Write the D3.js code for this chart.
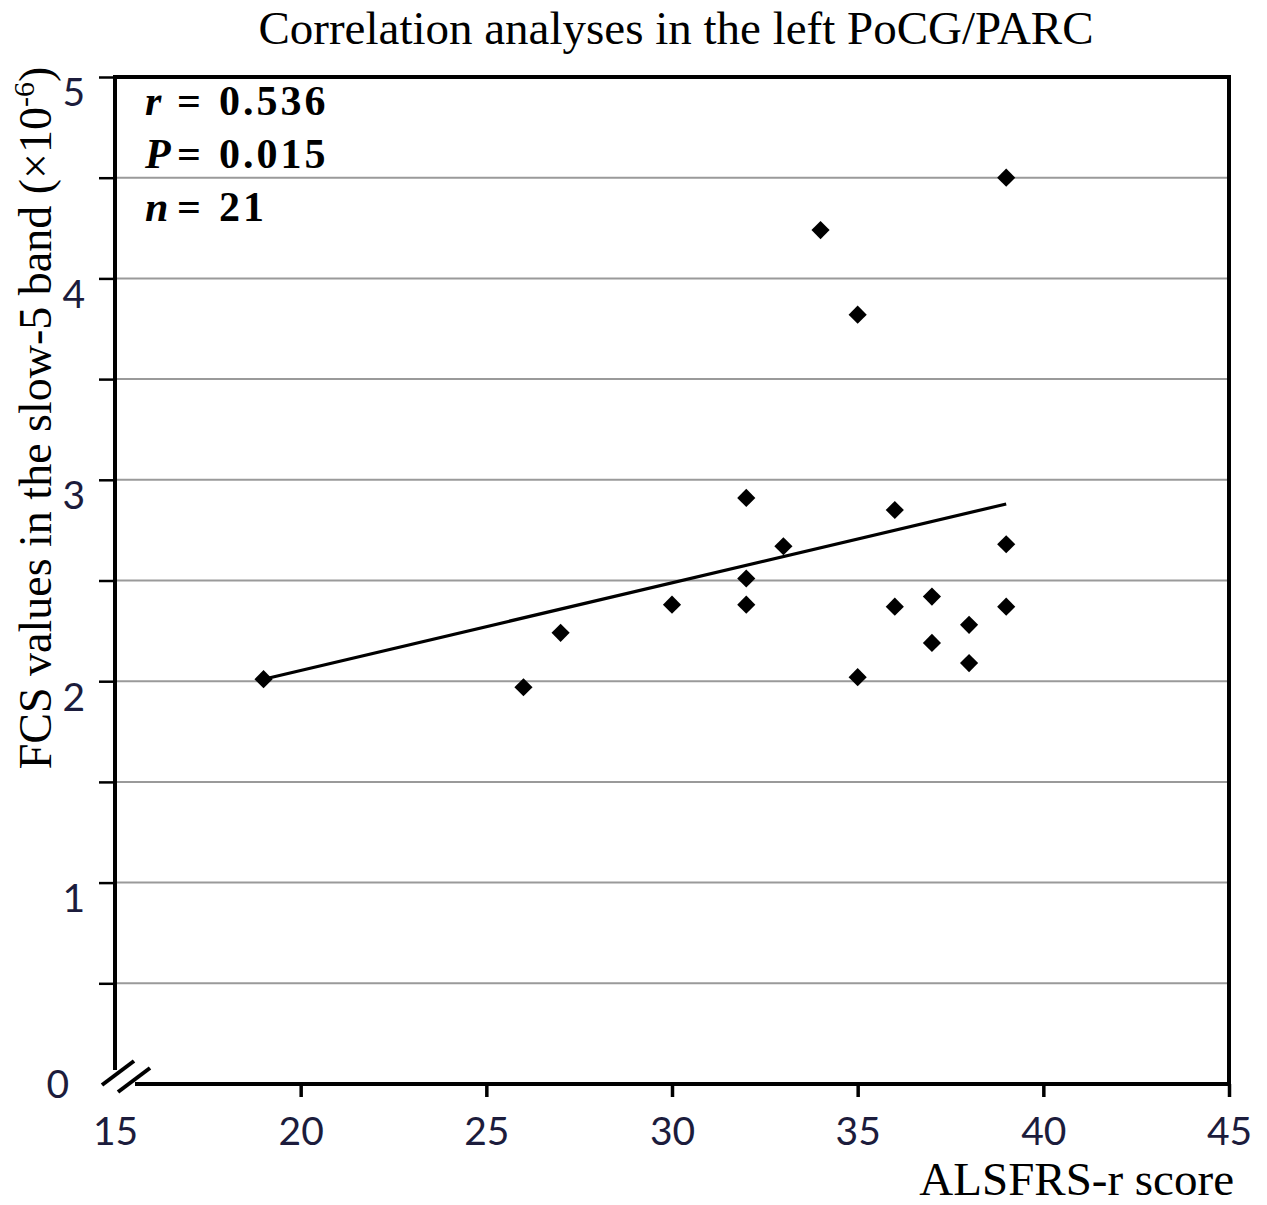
<!DOCTYPE html>
<html>
<head>
<meta charset="utf-8">
<script src="https://cdn.jsdelivr.net/npm/d3@7"></script>
<style>
  body { margin: 0; background: #fff; }
  svg { display: block; }
</style>
</head>
<body>
<script>
// ALSFRS-r score vs FCS values (slow-5 band)
const scores = [19, 26, 27, 30, 32, 32, 32, 33, 34, 35, 35, 36, 36, 37, 37, 38, 38, 39, 39, 39];
const fcsValues = [2.01, 1.97, 2.24, 2.38, 2.91, 2.51, 2.38, 2.67, 4.24, 3.82, 2.02, 2.85, 2.37, 2.42, 2.19, 2.28, 2.09, 4.50, 2.68, 2.37];

// fitted line end points
const fitX = [19, 39];
const fitY = [2.01, 2.88];

const xTicks = [15, 20, 25, 30, 35, 40, 45];
const yTicks = [0, 0.5, 1, 1.5, 2, 2.5, 3, 3.5, 4, 4.5, 5];
const yTickLabels = ["0", "", "1", "", "2", "", "3", "", "4", "", "5"];

const stats = [["r", "0.536"], ["P", "0.015"], ["n", "21"]];

const w = 1267, h = 1205;
const plotLeft = 115, plotRight = 1229, plotTop = 77, plotBottom = 1084;

const svg = d3.select("body").append("svg")
  .attr("width", w)
  .attr("height", h);

const x = d3.scaleLinear().domain([15, 45]).range([plotLeft, plotRight]);
const y = d3.scaleLinear().domain([0, 5]).range([plotBottom, plotTop]);

const serif = "'Liberation Serif', 'Times New Roman', serif";
const sans = "Lato, 'Open Sans', sans-serif";

// horizontal grid lines
svg.append("g")
  .selectAll("line")
  .data(yTicks.filter(d => d > 0 && d < 5))
  .join("line")
  .attr("x1", plotLeft).attr("x2", plotRight)
  .attr("y1", d => y(d)).attr("y2", d => y(d))
  .attr("stroke", "#9a9a9a")
  .attr("stroke-width", 2);

// y axis (ticks + labels), domain drawn separately because of the break
const yAxis = svg.append("g")
  .attr("transform", `translate(${plotLeft},0)`)
  .call(d3.axisLeft(y)
    .tickValues(yTicks)
    .tickSize(16)
    .tickPadding(14)
    .tickFormat((d, i) => yTickLabels[i]));
yAxis.select(".domain").remove();
yAxis.selectAll(".tick line")
  .attr("stroke", "#000")
  .attr("stroke-width", 2.5)
  .attr("display", d => d === 0 ? "none" : null);
yAxis.selectAll(".tick text")
  .attr("dy", "0.74em")
  .attr("fill", "#1c1c3c")
  .style("font-family", sans)
  .style("font-size", "39px");
yAxis.selectAll(".tick text")
  .filter(d => d === 0)
  .attr("dy", "0.35em")
  .attr("dx", -16);

// x axis
const xAxis = svg.append("g")
  .attr("transform", `translate(0,${plotBottom})`)
  .call(d3.axisBottom(x)
    .tickValues(xTicks)
    .tickSize(13)
    .tickPadding(20));
xAxis.select(".domain").remove();
xAxis.selectAll(".tick line")
  .attr("stroke", "#000")
  .attr("stroke-width", 3.5)
  .attr("display", d => d === 15 ? "none" : null);
xAxis.selectAll(".tick text")
  .attr("fill", "#1c1c3c")
  .style("font-family", sans)
  .style("font-size", "39px");

// frame: left axis, top, right, bottom (with broken corner)
const frame = svg.append("g").attr("stroke", "#000").attr("fill", "none");
frame.append("path")
  .attr("d", `M${plotLeft},${plotBottom - 14} V${plotTop} H${plotRight} V${plotBottom} H${plotLeft + 20}`)
  .attr("stroke-width", 4)
  .attr("stroke-linejoin", "miter");

// axis break marks
frame.selectAll("line.brk")
  .data([0, 1])
  .join("line")
  .attr("class", "brk")
  .attr("x1", d => plotLeft - 13 + d * 16).attr("y1", d => plotBottom + 1 + d * 7)
  .attr("x2", d => plotLeft + 19 + d * 16).attr("y2", d => plotBottom - 23 + d * 7)
  .attr("stroke-width", 4);

// regression line
svg.append("path")
  .datum(fitX.map((d, i) => [d, fitY[i]]))
  .attr("d", d3.line().x(d => x(d[0])).y(d => y(d[1])))
  .attr("stroke", "#000")
  .attr("stroke-width", 3.2)
  .attr("fill", "none");

// data points (diamonds)
svg.append("g")
  .selectAll("path")
  .data(scores.map((d, i) => [d, fcsValues[i]]))
  .join("path")
  .attr("d", d3.symbol(d3.symbolSquare, 165))
  .attr("transform", d => `translate(${x(d[0])},${y(d[1])}) rotate(45)`)
  .attr("fill", "#000");

// title
svg.append("text")
  .attr("x", 676)
  .attr("y", 44)
  .attr("text-anchor", "middle")
  .style("font-family", serif)
  .style("font-size", "47px")
  .text("Correlation analyses in the left PoCG/PARC");

// x axis title
svg.append("text")
  .attr("x", 1234)
  .attr("y", 1195)
  .attr("text-anchor", "end")
  .style("font-family", serif)
  .style("font-size", "47px")
  .text("ALSFRS-r score");

// y axis title
const yTitle = svg.append("text")
  .attr("transform", "translate(51,418) rotate(-90)")
  .attr("text-anchor", "middle")
  .style("font-family", serif)
  .style("font-size", "46px");
yTitle.append("tspan").text("FCS values in the slow-5 band (×10");
yTitle.append("tspan").attr("dy", -17).style("font-size", "30px").text("-6");
yTitle.append("tspan").attr("dy", 17).text(")");

// statistics
const statText = svg.append("g")
  .style("font-family", serif)
  .style("font-size", "42px")
  .style("font-weight", "bold");
statText.selectAll("text")
  .data(stats)
  .join("text")
  .attr("x", 145)
  .attr("y", (d, i) => 115 + i * 53)
  .each(function(d) {
    const t = d3.select(this);
    t.append("tspan").style("font-style", "italic").text(d[0]);
    t.append("tspan").attr("x", 177).text("=");
    t.append("tspan").attr("x", 219).attr("letter-spacing", "3px").text(d[1]);
  });
</script>
</body>
</html>
